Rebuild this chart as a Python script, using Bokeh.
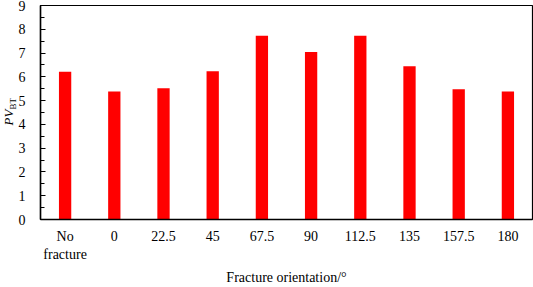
from bokeh.plotting import figure
from bokeh.models import ColumnDataSource, FactorRange, Range1d, Title, SingleIntervalTicker
from bokeh.embed import file_html
from bokeh.resources import INLINE

categories = ["No\nfracture", "0", "22.5", "45", "67.5", "90", "112.5", "135", "157.5", "180"]
pv_bt = [6.21, 5.38, 5.52, 6.24, 7.73, 7.04, 7.73, 6.44, 5.48, 5.38]

FONT = "Liberation Serif"

src = ColumnDataSource(dict(x=categories, top=pv_bt))

p = figure(width=533, height=287, x_range=FactorRange(*categories), y_range=Range1d(0, 9),
           output_backend="svg", toolbar_location=None,
           min_border_left=40, min_border_right=1, min_border_top=5, min_border_bottom=65)

p.vbar(x="x", top="top", width=0.25, source=src, color="#FF0000", line_color=None)

p.xgrid.grid_line_color = None
p.ygrid.grid_line_color = None
p.outline_line_color = "black"
p.outline_line_width = 1.2

p.x_range.range_padding = 0

yax = p.yaxis[0]
yax.ticker = SingleIntervalTicker(interval=1, num_minor_ticks=2)
yax.major_tick_in = 5
yax.major_tick_out = 0
yax.minor_tick_in = 4
yax.minor_tick_out = 0
yax.axis_line_color = "black"
yax.axis_line_width = 1.5
yax.major_label_text_font = FONT
yax.major_label_text_font_size = "14px"
yax.major_label_text_color = "black"
yax.major_label_standoff = 15

xax = p.xaxis[0]
xax.major_tick_line_color = None
xax.minor_tick_line_color = None
xax.axis_line_color = "black"
xax.axis_line_width = 1.5
xax.major_label_text_font = FONT
xax.major_label_text_font_size = "14px"
xax.major_label_text_color = "black"
xax.major_label_standoff = 3
xax.axis_label = "Fracture orientation/°"
xax.axis_label_text_font = FONT
xax.axis_label_text_font_size = "14px"
xax.axis_label_text_font_style = "normal"
xax.axis_label_text_color = "black"
xax.axis_label_standoff = 5

# y-axis title "PV" with subscript "BT", as two side-panel titles
bt = Title(text="BT", text_font=FONT, text_font_size="9px", text_font_style="normal",
           text_color="black", align="left", offset=110, vertical_align="middle", standoff=-6)
pv = Title(text="PV", text_font=FONT, text_font_size="13px", text_font_style="italic",
           text_color="black", align="left", offset=94, vertical_align="middle", standoff=-15)
p.add_layout(bt, "left")
p.add_layout(pv, "left")

open("out.html", "w").write(file_html(p, INLINE))
